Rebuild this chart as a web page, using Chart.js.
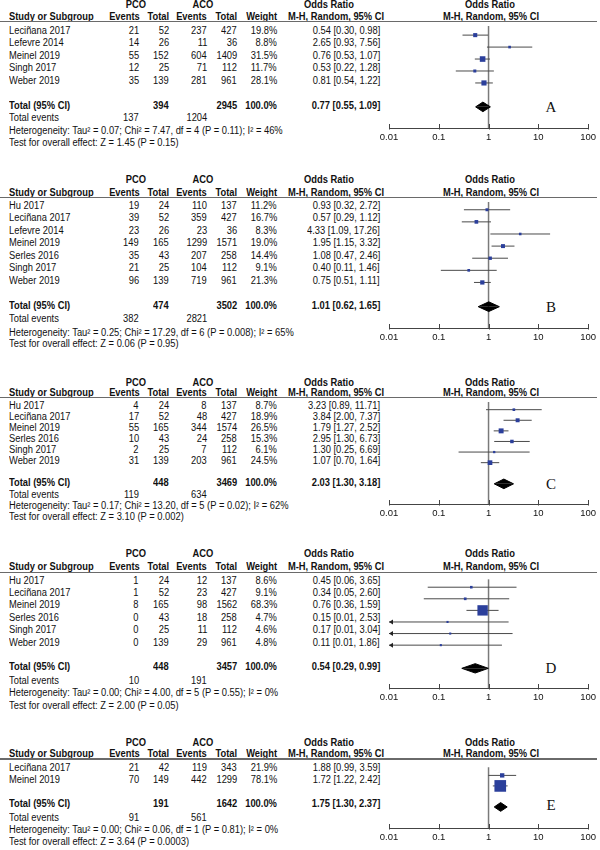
<!DOCTYPE html>
<html><head><meta charset="utf-8">
<script src="https://cdn.jsdelivr.net/npm/chart.js@4/dist/chart.umd.min.js"></script>
<style>
html,body{margin:0;padding:0;background:#fff;}
#root{position:relative;width:600px;height:850px;overflow:hidden;font-family:"Liberation Sans",Arial,sans-serif;font-size:10px;color:#111;}
.t{position:absolute;white-space:nowrap;line-height:12px;}
.b{font-weight:bold;}
.let{font-family:"Liberation Serif","Times New Roman",serif;font-size:15px;line-height:16px;}
.rule{position:absolute;left:0;width:597px;height:1.5px;background:#6a6a6a;}
canvas{position:absolute;}
</style></head><body><div id="root"></div>
<script>
// ---------- axis ----------
const tickValues=[0.01,0.1,1,10,100];
const tickLabels=["0.01","0.1","1","10","100"];
const panelLetters=["A","B","C","D","E"];

// ---------- Panel A ----------
const A_study=["Leciñana 2017","Lefevre 2014","Meinel 2019","Singh 2017","Weber 2019"];
const A_pcoEvents=[21,14,55,12,35];
const A_pcoTotal=[52,26,152,25,139];
const A_acoEvents=[237,11,604,71,281];
const A_acoTotal=[427,36,1409,112,961];
const A_weight=[19.8,8.8,31.5,11.7,28.1];
const A_or=[0.54,2.65,0.76,0.53,0.81];
const A_lo=[0.30,0.93,0.53,0.22,0.54];
const A_hi=[0.98,7.56,1.07,1.28,1.22];
const A_totals=[394,2945];
const A_totalEvents=[137,1204];
const A_pooled=[0.77,0.55,1.09];
const A_het="Heterogeneity: Tau² = 0.07; Chi² = 7.47, df = 4 (P = 0.11); I² = 46%";
const A_test="Test for overall effect: Z = 1.45 (P = 0.15)";

// ---------- Panel B ----------
const B_study=["Hu 2017","Leciñana 2017","Lefevre 2014","Meinel 2019","Serles 2016","Singh 2017","Weber 2019"];
const B_pcoEvents=[19,39,23,149,35,21,96];
const B_pcoTotal=[24,52,26,165,43,25,139];
const B_acoEvents=[110,359,23,1299,207,104,719];
const B_acoTotal=[137,427,36,1571,258,112,961];
const B_weight=[11.2,16.7,8.3,19.0,14.4,9.1,21.3];
const B_or=[0.93,0.57,4.33,1.95,1.08,0.40,0.75];
const B_lo=[0.32,0.29,1.09,1.15,0.47,0.11,0.51];
const B_hi=[2.72,1.12,17.26,3.32,2.46,1.46,1.11];
const B_totals=[474,3502];
const B_totalEvents=[382,2821];
const B_pooled=[1.01,0.62,1.65];
const B_het="Heterogeneity: Tau² = 0.25; Chi² = 17.29, df = 6 (P = 0.008); I² = 65%";
const B_test="Test for overall effect: Z = 0.06 (P = 0.95)";

// ---------- Panel C ----------
const C_study=["Hu 2017","Leciñana 2017","Meinel 2019","Serles 2016","Singh 2017","Weber 2019"];
const C_pcoEvents=[4,17,55,10,2,31];
const C_pcoTotal=[24,52,165,43,25,139];
const C_acoEvents=[8,48,344,24,7,203];
const C_acoTotal=[137,427,1574,258,112,961];
const C_weight=[8.7,18.9,26.5,15.3,6.1,24.5];
const C_or=[3.23,3.84,1.79,2.95,1.30,1.07];
const C_lo=[0.89,2.00,1.27,1.30,0.25,0.70];
const C_hi=[11.71,7.37,2.52,6.73,6.69,1.64];
const C_totals=[448,3469];
const C_totalEvents=[119,634];
const C_pooled=[2.03,1.30,3.18];
const C_het="Heterogeneity: Tau² = 0.17; Chi² = 13.20, df = 5 (P = 0.02); I² = 62%";
const C_test="Test for overall effect: Z = 3.10 (P = 0.002)";

// ---------- Panel D ----------
const D_study=["Hu 2017","Leciñana 2017","Meinel 2019","Serles 2016","Singh 2017","Weber 2019"];
const D_pcoEvents=[1,1,8,0,0,0];
const D_pcoTotal=[24,52,165,43,25,139];
const D_acoEvents=[12,23,98,18,11,29];
const D_acoTotal=[137,427,1562,258,112,961];
const D_weight=[8.6,9.1,68.3,4.7,4.6,4.8];
const D_or=[0.45,0.34,0.76,0.15,0.17,0.11];
const D_lo=[0.06,0.05,0.36,0.01,0.01,0.01];
const D_hi=[3.65,2.60,1.59,2.53,3.04,1.86];
const D_totals=[448,3457];
const D_totalEvents=[10,191];
const D_pooled=[0.54,0.29,0.99];
const D_het="Heterogeneity: Tau² = 0.00; Chi² = 4.00, df = 5 (P = 0.55); I² = 0%";
const D_test="Test for overall effect: Z = 2.00 (P = 0.05)";

// ---------- Panel E ----------
const E_study=["Leciñana 2017","Meinel 2019"];
const E_pcoEvents=[21,70];
const E_pcoTotal=[42,149];
const E_acoEvents=[119,442];
const E_acoTotal=[343,1299];
const E_weight=[21.9,78.1];
const E_or=[1.88,1.72];
const E_lo=[0.99,1.22];
const E_hi=[3.59,2.42];
const E_totals=[191,1642];
const E_totalEvents=[91,561];
const E_pooled=[1.75,1.30,2.37];
const E_het="Heterogeneity: Tau² = 0.00; Chi² = 0.06, df = 1 (P = 0.81); I² = 0%";
const E_test="Test for overall effect: Z = 3.64 (P = 0.0003)";

// ---------- layout (pixel geometry only) ----------
const geo=[
 {head:5,   colHead:17,   rule:21.5,  first:31,    total:105.7, axis:127.7, ev:118.3, het:131,   test:143.3},
 {head:180, colHead:193.3,rule:197.7, first:205.7, total:305.7, axis:327.7, ev:319.3, het:332.7, test:344.3},
 {head:382.7,colHead:393.3,rule:397.7,first:405.7, total:483,   axis:504,   ev:495,   het:506,   test:516.7},
 {head:554, colHead:567.3,rule:572.3, first:580.7, total:667.3, axis:688.3, ev:681,   het:693.3, test:705.7},
 {head:742.7,colHead:754.3,rule:759,  first:768.3, total:804.3, axis:828.3, ev:818.3, het:830.3, test:842.3}
];

const panels=[
 {study:A_study,pe:A_pcoEvents,pt:A_pcoTotal,ae:A_acoEvents,at:A_acoTotal,w:A_weight,or:A_or,lo:A_lo,hi:A_hi,tot:A_totals,tev:A_totalEvents,pool:A_pooled,het:A_het,test:A_test},
 {study:B_study,pe:B_pcoEvents,pt:B_pcoTotal,ae:B_acoEvents,at:B_acoTotal,w:B_weight,or:B_or,lo:B_lo,hi:B_hi,tot:B_totals,tev:B_totalEvents,pool:B_pooled,het:B_het,test:B_test},
 {study:C_study,pe:C_pcoEvents,pt:C_pcoTotal,ae:C_acoEvents,at:C_acoTotal,w:C_weight,or:C_or,lo:C_lo,hi:C_hi,tot:C_totals,tev:C_totalEvents,pool:C_pooled,het:C_het,test:C_test},
 {study:D_study,pe:D_pcoEvents,pt:D_pcoTotal,ae:D_acoEvents,at:D_acoTotal,w:D_weight,or:D_or,lo:D_lo,hi:D_hi,tot:D_totals,tev:D_totalEvents,pool:D_pooled,het:D_het,test:D_test},
 {study:E_study,pe:E_pcoEvents,pt:E_pcoTotal,ae:E_acoEvents,at:E_acoTotal,w:E_weight,or:E_or,lo:E_lo,hi:E_hi,tot:E_totals,tev:E_totalEvents,pool:E_pooled,het:E_het,test:E_test}
];

const root=document.getElementById('root');
const SX=0.935;
function txt(s,x,y,align,cls){
  const e=document.createElement('span');
  e.className='t'+(cls?' '+cls:'');
  e.textContent=s;
  e.style.top=(y-6)+'px';
  if(align==='r'){e.style.right=(600-x)+'px';e.style.transformOrigin='right center';e.style.transform='scaleX('+SX+')';}
  else if(align==='c'){e.style.left=x+'px';e.style.transformOrigin='center center';e.style.transform='translateX(-50%) scaleX('+SX+')';}
  else {e.style.left=x+'px';e.style.transformOrigin='left center';e.style.transform='scaleX('+SX+')';}
  root.appendChild(e);
  return e;
}
const f2=v=>v.toFixed(2);
const ciText=(o,l,h)=>f2(o)+' ['+f2(l)+', '+f2(h)+']';

const SQ='#2b3f9b';
panels.forEach((p,k)=>{
  const L=geo[k]; const n=p.study.length;
  const step=(L.total-L.first)/(n+1);
  // headers
  txt('PCO',136,L.head,'c','b');
  txt('ACO',203,L.head,'c','b');
  txt('Odds Ratio',329,L.head,'c','b');
  txt('Odds Ratio',490,L.head,'c','b');
  txt('Study or Subgroup',9,L.colHead,'l','b');
  txt('Events',140,L.colHead,'r','b');
  txt('Total',169,L.colHead,'r','b');
  txt('Events',207,L.colHead,'r','b');
  txt('Total',237,L.colHead,'r','b');
  txt('Weight',277,L.colHead,'r','b');
  txt('M-H, Random, 95% CI',336,L.colHead,'c','b');
  txt('M-H, Random, 95% CI',491,L.colHead,'c','b');
  const r=document.createElement('div'); r.className='rule'; r.style.top=(L.rule-0.75)+'px'; root.appendChild(r);
  // rows
  p.study.forEach((s,i)=>{
    const y=L.first+i*step;
    txt(s,9,y,'l');
    txt(String(p.pe[i]),139,y,'r');
    txt(String(p.pt[i]),169,y,'r');
    txt(String(p.ae[i]),207,y,'r');
    txt(String(p.at[i]),237,y,'r');
    txt(p.w[i].toFixed(1)+'%',277,y,'r');
    txt(ciText(p.or[i],p.lo[i],p.hi[i]),380,y,'r');
  });
  txt('Total (95% CI)',9,L.total,'l','b');
  txt(String(p.tot[0]),169,L.total,'r','b');
  txt(String(p.tot[1]),237,L.total,'r','b');
  txt('100.0%',277,L.total,'r','b');
  txt(ciText(p.pool[0],p.pool[1],p.pool[2]),380,L.total,'r','b');
  txt('Total events',9,L.ev,'l');
  txt(String(p.tev[0]),139,L.ev,'r');
  txt(String(p.tev[1]),207,L.ev,'r');
  txt(p.het,9,L.het,'l');
  txt(p.test,9,L.test,'l');
  const le=document.createElement('span'); le.className='t let'; le.textContent=panelLetters[k];
  le.style.left='551px'; le.style.top=(L.total+1-8)+'px'; le.style.transform='translateX(-50%)';
  root.appendChild(le);

  // chart
  const H=L.axis-L.rule;
  const cv=document.createElement('canvas');
  cv.width=240; cv.height=Math.round(H+18);
  cv.style.left='360px'; cv.style.top=L.rule+'px';
  root.appendChild(cv);
  const ymin=-(L.first-L.rule)/step, ymax=(L.axis-L.first)/step;
  const T=n+1, hh=5/step;
  const ds=[];
  ds.push({data:p.or.map((v,i)=>({x:v,y:i})),pointStyle:'rect',
    pointRadius:p.w.map(w=>(1.5+w*0.13)/Math.SQRT2),
    backgroundColor:SQ,borderColor:SQ,borderWidth:0,pointBorderWidth:0,order:0,clip:false});
  p.lo.forEach((lo,i)=>{
    ds.push({data:[{x:Math.max(lo,tickValues[0]),y:i},{x:p.hi[i],y:i}],showLine:true,
      borderColor:'#4a4a4a',borderWidth:1,pointRadius:0,order:2,clip:false});
  });
  [-hh,hh].forEach(d=>{
    ds.push({data:[{x:p.pool[1],y:T},{x:p.pool[0],y:T+d},{x:p.pool[2],y:T}],showLine:true,
      fill:{value:T},backgroundColor:'#000',borderColor:'#000',borderWidth:1,pointRadius:0,tension:0,order:1,clip:false});
  });
  const lows=p.lo;
  const plug={id:'forest'+k,
    beforeDatasetsDraw(c){
      const {ctx,chartArea:a,scales:{x}}=c;
      const px=x.getPixelForValue(1);
      ctx.save();ctx.strokeStyle='#7a7a7a';ctx.lineWidth=1.5;
      ctx.beginPath();ctx.moveTo(px,a.top);ctx.lineTo(px,a.bottom);ctx.stroke();ctx.restore();
    },
    afterDatasetsDraw(c){
      const {ctx,chartArea:a,scales:{x,y}}=c;
      ctx.save();ctx.strokeStyle='#444';ctx.lineWidth=1;
      tickValues.forEach(v=>{const px=Math.round(x.getPixelForValue(v))+0.5;
        ctx.beginPath();ctx.moveTo(px,a.bottom-4);ctx.lineTo(px,a.bottom+1.5);ctx.stroke();});
      ctx.fillStyle='#222';
      lows.forEach((lo,i)=>{ if(lo<=x.min){const py=y.getPixelForValue(i);
        ctx.beginPath();ctx.moveTo(a.left,py);ctx.lineTo(a.left+4,py-2.5);ctx.lineTo(a.left+4,py+2.5);ctx.closePath();ctx.fill();}});
      ctx.restore();
    }};
  new Chart(cv,{type:'scatter',data:{datasets:ds},
    options:{responsive:false,animation:false,devicePixelRatio:1,
      layout:{padding:{left:29,right:11,top:0,bottom:0}},
      plugins:{legend:{display:false},tooltip:{enabled:false}},
      scales:{
        x:{type:'logarithmic',min:0.01,max:100,
          afterBuildTicks:s=>{s.ticks=tickValues.map(v=>({value:v}));},
          afterFit:s=>{s.height=18;},
          grid:{display:false,drawTicks:false},
          border:{display:true,color:'#444',width:1},
          ticks:{autoSkip:false,maxRotation:0,minRotation:0,padding:4,color:'#111',
            font:{family:'Liberation Sans',size:9.5},callback:(v,i)=>tickLabels[i]}},
        y:{type:'linear',display:false,reverse:true,min:ymin,max:ymax}
      }},
    plugins:[plug]});
});
</script></body></html>
